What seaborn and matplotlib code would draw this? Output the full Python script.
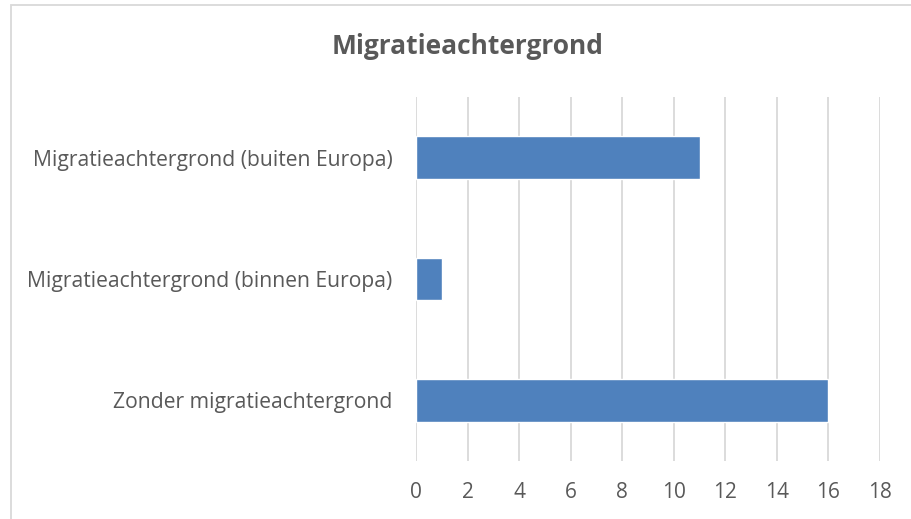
import numpy as np
import pandas as pd
import matplotlib
matplotlib.use("Agg")
import matplotlib.pyplot as plt
import seaborn as sns
from matplotlib.patches import Rectangle

# Data
categories = [
    "Migratieachtergrond (buiten Europa)",
    "Migratieachtergrond (binnen Europa)",
    "Zonder migratieachtergrond",
]
counts = [11, 1, 16]
x_ticks = [0, 2, 4, 6, 8, 10, 12, 14, 16, 18]
title = "Migratieachtergrond"

text_color = "#595959"
bar_color = "#4F81BD"
grid_color = "#D9D9D9"

sns.set_theme(style="white")
plt.rcParams["font.family"] = ["Open Sans", "DejaVu Sans"]

df = pd.DataFrame({"categorie": categories, "aantal": counts})

fig = plt.figure(figsize=(9.11, 5.19), dpi=100)
ax = fig.add_axes([416 / 911, 1 - 461 / 519, (880 - 416) / 911, (461 - 97) / 519])

sns.barplot(data=df, x="aantal", y="categorie", orient="h", color=bar_color,
            width=0.35, saturation=1, ax=ax, zorder=3)

ax.set_xlim(0, 18)
ax.set_xticks(x_ticks)
ax.xaxis.grid(True, color=grid_color, linewidth=1.3, zorder=0)
ax.set_axisbelow(True)
ax.set_xlabel("")
ax.set_ylabel("")
for s in ax.spines.values():
    s.set_visible(False)
ax.tick_params(axis="x", length=0, pad=15, labelsize=15, labelcolor=text_color)
ax.tick_params(axis="y", length=0, pad=17, labelsize=15.2, labelcolor=text_color)

fig.text(0.5 * (331 + 604) / 911, 1 - 46 / 519, title, ha="center", va="center",
         fontsize=19, fontweight="bold", color=text_color)

# chart border (cropped at right and bottom)
fig.patches.append(Rectangle((10.5 / 911, -0.1), 1.2, 1.1 - 5.5 / 519,
                             transform=fig.transFigure, fill=False,
                             edgecolor=grid_color, linewidth=1.3))

fig.savefig("out.png", dpi=100)
